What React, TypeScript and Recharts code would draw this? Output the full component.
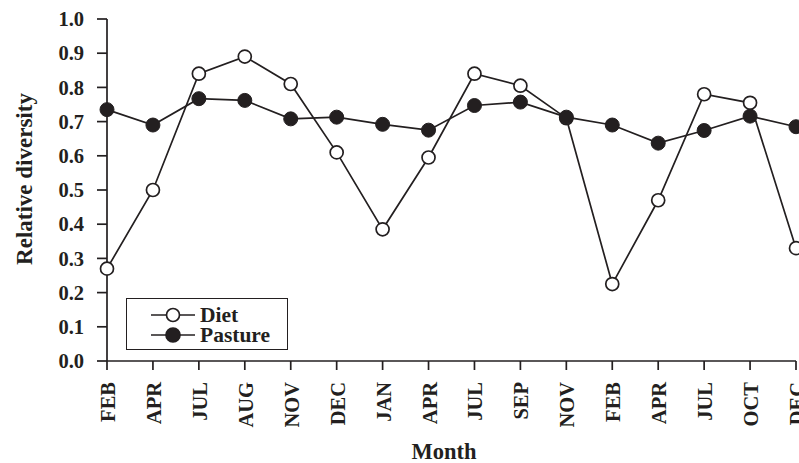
import { LineChart, Line, XAxis, YAxis, Legend, Label } from 'recharts';

const MONTHS = ['FEB', 'APR', 'JUL', 'AUG', 'NOV', 'DEC', 'JAN', 'APR', 'JUL', 'SEP', 'NOV', 'FEB', 'APR', 'JUL', 'OCT', 'DEC'];
const DIET = [0.27, 0.50, 0.84, 0.89, 0.81, 0.61, 0.385, 0.595, 0.84, 0.805, 0.71, 0.225, 0.47, 0.78, 0.755, 0.33];
const PASTURE = [0.735, 0.69, 0.767, 0.762, 0.708, 0.713, 0.692, 0.675, 0.747, 0.757, 0.713, 0.69, 0.637, 0.674, 0.716, 0.685];
const Y_TICKS = [0, 0.1, 0.2, 0.3, 0.4, 0.5, 0.6, 0.7, 0.8, 0.9, 1.0];

const INK = '#231f20';
const FONT = '"Liberation Serif", "Times New Roman", serif';

const data = MONTHS.map((m, i) => ({ idx: i, month: m, diet: DIET[i], pasture: PASTURE[i] }));
const xTicks = MONTHS.map((_, i) => i);

const MonthTick = ({ x, y, payload }: any) => (
  <text
    transform={`translate(${x + 8},${y + 12}) rotate(-90)`}
    textAnchor="end"
    fill={INK}
    fontFamily={FONT}
    fontWeight="bold"
    fontSize={20.5}
  >
    {MONTHS[payload.value]}
  </text>
);

const LegendBox = () => {
  const rows = [
    { name: 'Diet', fill: '#ffffff', r: 6.5 },
    { name: 'Pasture', fill: INK, r: 7 },
  ];
  return (
    <div
      style={{
        width: 162,
        height: 52,
        border: `1.5px solid ${INK}`,
        background: '#fff',
        boxSizing: 'border-box',
        position: 'relative',
      }}
    >
      {rows.map((row, i) => (
        <div key={row.name} style={{ position: 'absolute', left: 0, top: 6 + i * 20, height: 20, display: 'flex', alignItems: 'center' }}>
          <svg width={73} height={20} style={{ display: 'block' }}>
            <line x1={24} y1={10} x2={68} y2={10} stroke={INK} strokeWidth={1.7} />
            <circle cx={46} cy={10} r={row.r} fill={row.fill} stroke={INK} strokeWidth={1.7} />
          </svg>
          <span style={{ fontFamily: FONT, fontWeight: 'bold', fontSize: 21.5, color: INK, lineHeight: '20px' }}>
            {row.name}
          </span>
        </div>
      ))}
    </div>
  );
};

export default function App() {
  return (
    <div style={{ position: 'absolute', left: 0, top: 0, width: 799, height: 463, background: '#fff' }}>
      <LineChart width={799} height={463} data={data} margin={{ top: 19, right: 3, left: 0, bottom: 0 }}>
        <XAxis
          dataKey="idx"
          type="number"
          domain={[0, 15]}
          ticks={xTicks}
          interval={0}
          tick={<MonthTick />}
          tickSize={9}
          tickMargin={0}
          height={102}
          stroke={INK}
          strokeWidth={1.7}
          tickLine={{ stroke: INK, strokeWidth: 1.7 }}
        >
          <Label
            content={() => (
              <text x={444} y={459} textAnchor="middle" fill={INK} fontFamily={FONT} fontWeight="bold" fontSize={22.5}>
                Month
              </text>
            )}
          />
        </XAxis>
        <YAxis
          type="number"
          domain={[0, 1]}
          ticks={Y_TICKS}
          interval={0}
          width={107}
          tickSize={10}
          tickMargin={13}
          tickFormatter={(v: number) => v.toFixed(1)}
          tick={{ fill: INK, fontFamily: FONT, fontWeight: 'bold', fontSize: 20.5 }}
          stroke={INK}
          strokeWidth={1.7}
          tickLine={{ stroke: INK, strokeWidth: 1.7 }}
        >
          <Label
            content={() => (
              <text
                x={32}
                y={179}
                transform="rotate(-90 32 179)"
                textAnchor="middle"
                fill={INK}
                fontFamily={FONT}
                fontWeight="bold"
                fontSize={23}
              >
                Relative diversity
              </text>
            )}
          />
        </YAxis>
        <Legend
          layout="horizontal"
          verticalAlign="middle"
          align="center"
          content={<LegendBox />}
          wrapperStyle={{ position: 'absolute', left: 126, top: 298, width: 162, height: 52 }}
        />
        <Line
          type="linear"
          dataKey="diet"
          name="Diet"
          stroke={INK}
          strokeWidth={1.7}
          dot={{ r: 6.5, fill: '#ffffff', stroke: INK, strokeWidth: 1.7 }}
          activeDot={false}
          isAnimationActive={false}
        />
        <Line
          type="linear"
          dataKey="pasture"
          name="Pasture"
          stroke={INK}
          strokeWidth={1.7}
          dot={{ r: 7, fill: INK, stroke: INK, strokeWidth: 1 }}
          activeDot={false}
          isAnimationActive={false}
        />
      </LineChart>
    </div>
  );
}
